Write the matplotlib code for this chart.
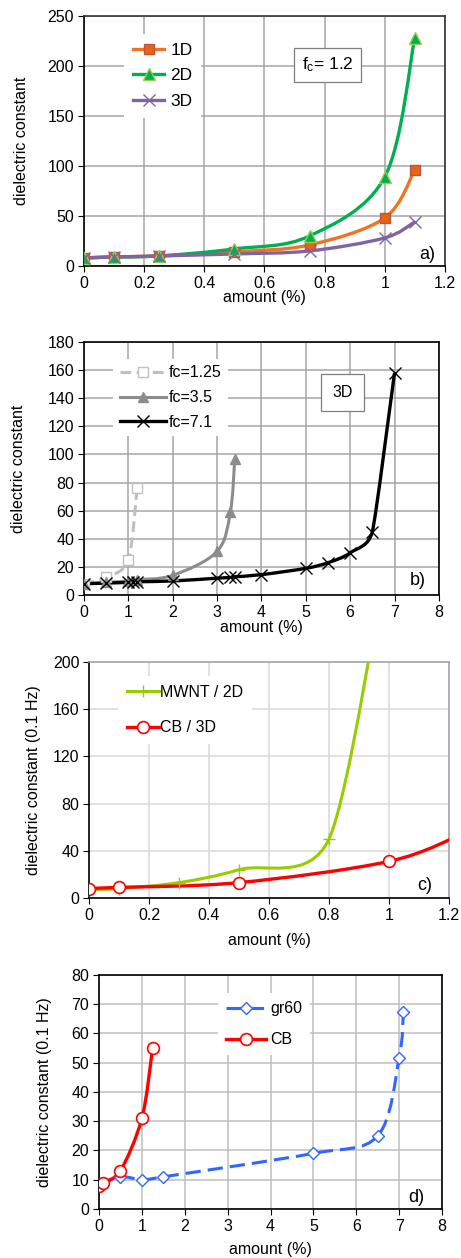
import numpy as np
import matplotlib
matplotlib.use('Agg')
import matplotlib.pyplot as plt
from matplotlib.path import Path
from matplotlib.patches import PathPatch
from matplotlib.lines import Line2D

plt.rcParams['font.family'] = ['Liberation Sans', 'DejaVu Sans']
plt.rcParams['font.size'] = 11.5

# a) network dimension, fc = 1.2
amount_a = [0, 0.1, 0.25, 0.5, 0.75, 1.0, 1.1]
eps_1d = [8, 9, 10, 14, 21, 48, 96]
eps_2d = [8, 9, 10, 17, 30, 89, 228]
eps_3d = [8, 9, 10, 12, 15, 28, 44]

# b) 3D network, different critical fractions
amount_fc125 = [0, 0.5, 1.0, 1.2]
eps_fc125 = [8, 12.5, 25, 76]
amount_fc35 = [0, 0.5, 1.0, 1.2, 2, 3, 3.3, 3.4]
eps_fc35 = [8, 9, 10, 11, 14, 31, 59, 97]
amount_fc71 = [0, 0.5, 1.0, 1.1, 1.2, 2, 3, 3.3, 3.4, 4, 5, 5.5, 6, 6.5, 7.0]
eps_fc71 = [8, 8.5, 9, 9.5, 9.5, 10, 12, 12.5, 13, 14.5, 19, 23, 30, 45, 158]

# c) MWNT vs CB
amount_mwnt = [0, 0.1, 0.3, 0.5, 0.8, 1.0]
eps_mwnt = [7, 8, 13, 24, 50, 300]
amount_cb = [0, 0.1, 0.5, 1.0, 1.25]
eps_cb = [8, 9, 13, 31, 55]

# d) graphite gr60 vs CB
amount_gr60 = [0, 0.5, 1.0, 1.5, 5.0, 6.5, 7.0, 7.1]
eps_gr60 = [8, 11, 10, 11, 19, 25, 51.5, 67.5]


def smooth_path(ax, x, y):
    # spreadsheet-style smoothed line: cubic Bezier through every point,
    # tangent (next - prev) / 6, capped at half of the shorter neighbouring chord
    pts = ax.transData.transform(np.column_stack([x, y]).astype(float))
    n = len(pts)
    arms = []
    for i in range(n):
        prev = pts[max(i - 1, 0)]
        nxt = pts[min(i + 1, n - 1)]
        v = (nxt - prev) / 6
        chords = []
        if i > 0:
            chords.append(np.hypot(*(pts[i] - prev)))
        if i < n - 1:
            chords.append(np.hypot(*(nxt - pts[i])))
        cap = 0.5 * min(chords)
        length = np.hypot(*v)
        if length > cap and length > 0:
            v = v * cap / length
        arms.append(v)
    verts = [pts[0]]
    codes = [Path.MOVETO]
    for i in range(n - 1):
        verts += [pts[i] + arms[i], pts[i + 1] - arms[i + 1], pts[i + 1]]
        codes += [Path.CURVE4] * 3
    verts = ax.transData.inverted().transform(np.array(verts))
    return Path(verts, codes)


def series(ax, x, y, color, lw, marker, ms, mfc, mec, mew=1.0, ls='-', label=None):
    ax.add_patch(PathPatch(smooth_path(ax, x, y), facecolor='none', edgecolor=color,
                           lw=lw, linestyle=ls, zorder=3))
    ax.plot(x, y, linestyle='none', marker=marker, ms=ms, mfc=mfc, mec=mec,
            mew=mew, zorder=4)
    return Line2D([], [], color=color, lw=lw, ls=ls, marker=marker, ms=ms,
                  mfc=mfc, mec=mec, mew=mew, label=label)


def style_axes(ax, xlim, ylim, xstep, ystep, grid_color, edge_color='black'):
    ax.set_xlim(*xlim)
    ax.set_ylim(*ylim)
    ax.set_xticks(np.arange(xlim[0], xlim[1] + xstep / 2, xstep))
    ax.set_yticks(np.arange(ylim[0], ylim[1] + ystep / 2, ystep))
    ax.xaxis.set_major_formatter(plt.FuncFormatter(lambda v, p: '%g' % round(v, 3)))
    ax.grid(True, color=grid_color, lw=1.1)
    ax.set_axisbelow(True)
    ax.tick_params(direction='out', length=4, width=0.8, pad=3, labelsize=11.5)
    for side in ['left', 'bottom']:
        ax.spines[side].set_color('black')
        ax.spines[side].set_linewidth(1.2)
    for side in ['top', 'right']:
        ax.spines[side].set_color(edge_color)
        ax.spines[side].set_linewidth(1.2)


legend_kw = dict(loc='upper left', frameon=True, fancybox=False, edgecolor='none',
                 framealpha=1)

fig = plt.figure(figsize=(4.61, 12.58), dpi=100)

# ---- a)
ax = fig.add_axes([0.182, 0.7886, 0.783, 0.1987])
style_axes(ax, (0, 1.2), (0, 250), 0.2, 50, '#A6A6A6', '#333333')
h1 = series(ax, amount_a, eps_1d, '#EE7421', 2.4, 's', 7.5, '#E8650E', '#C0504D', label='1D')
h2 = series(ax, amount_a, eps_2d, '#00B050', 2.4, '^', 8.5, '#00B050', '#92D050', label='2D')
h3 = series(ax, amount_a, eps_3d, '#8064A2', 2.4, 'x', 8, '#8064A2', '#8064A2', label='3D')
ax.legend(handles=[h1, h2, h3], bbox_to_anchor=(0.088, 0.963), fontsize=12.5,
          handlelength=1.8, handletextpad=0.35, labelspacing=0.6, borderpad=0.5,
          **legend_kw)
ax.text(0.81, 201, r'$\mathregular{f_c}$= 1.2', fontsize=12.5, ha='center', va='center',
        bbox=dict(boxstyle='square,pad=0.45', fc='white', ec='#7F7F7F', lw=0.9))
ax.text(0.95, 0.044, 'a)', transform=ax.transAxes, fontsize=13, ha='center', va='center')
ax.set_xlabel('amount (%)', fontsize=11.5)
ax.set_ylabel('dielectric constant', fontsize=11.5)
ax.xaxis.set_label_coords(0.5, -0.096)
ax.yaxis.set_label_coords(-0.152, 0.5)

# ---- b)
ax = fig.add_axes([0.182, 0.527, 0.77, 0.2011])
style_axes(ax, (0, 8), (0, 180), 1, 20, '#A6A6A6')
h1 = series(ax, amount_fc125, eps_fc125, '#BFBFBF', 2.2, 's', 7, 'white', '#BFBFBF',
            ls=(0, (3.5, 1.8)), label='fc=1.25')
h2 = series(ax, amount_fc35, eps_fc35, '#8C8C8C', 2.2, '^', 7, '#8C8C8C', '#8C8C8C',
            label='fc=3.5')
h3 = series(ax, amount_fc71, eps_fc71, 'black', 2.4, 'x', 8, 'black', 'black',
            label='fc=7.1')
ax.legend(handles=[h1, h2, h3], bbox_to_anchor=(0.06, 0.965), fontsize=11.5,
          handlelength=2.9, handletextpad=0.2, labelspacing=0.62, borderpad=0.4,
          **legend_kw)
ax.text(5.83, 144, '3D', fontsize=11.5, ha='center', va='center',
        bbox=dict(boxstyle='square,pad=0.7', fc='white', ec='#7F7F7F', lw=0.9))
ax.text(0.941, 0.059, 'b)', transform=ax.transAxes, fontsize=13, ha='center', va='center')
ax.set_xlabel('amount (%)', fontsize=11.5)
ax.set_ylabel('dielectric constant', fontsize=11.5)
ax.xaxis.set_label_coords(0.5, -0.098)
ax.yaxis.set_label_coords(-0.163, 0.5)

# ---- c)
ax = fig.add_axes([0.193, 0.2862, 0.781, 0.1876])
style_axes(ax, (0, 1.2), (0, 200), 0.2, 40, '#D9D9D9', '#A6A6A6')
h1 = series(ax, amount_mwnt, eps_mwnt, '#99CC00', 2.2, '+', 8, '#99CC00', '#99CC00',
            label='MWNT / 2D')
h2 = series(ax, amount_cb, eps_cb, '#FF0000', 2.4, 'o', 8.5, 'white', '#FF0000',
            mew=1.2, label='CB / 3D')
ax.legend(handles=[h1, h2], bbox_to_anchor=(0.058, 0.975), fontsize=11.5,
          handlelength=2.0, handletextpad=0.1, labelspacing=1.3, borderpad=0.55,
          **legend_kw)
ax.text(0.933, 0.051, 'c)', transform=ax.transAxes, fontsize=13, ha='center', va='center')
ax.set_xlabel('amount (%)', fontsize=11.5)
ax.set_ylabel('dielectric constant (0.1 Hz)', fontsize=11.5)
ax.xaxis.set_label_coords(0.5, -0.148)
ax.yaxis.set_label_coords(-0.132, 0.5)

# ---- d)
ax = fig.add_axes([0.2148, 0.039, 0.744, 0.186])
style_axes(ax, (0, 8), (0, 80), 1, 10, '#BFBFBF')
h1 = series(ax, amount_gr60, eps_gr60, '#3366FF', 2.2, 'D', 6.5, 'white', '#3366FF',
            ls=(0, (5, 2.3)), label='gr60')
h2 = series(ax, amount_cb, eps_cb, '#FF0000', 2.4, 'o', 8.5, 'white', '#FF0000',
            mew=1.2, label='CB')
ax.legend(handles=[h1, h2], bbox_to_anchor=(0.325, 0.955), fontsize=11.5,
          handlelength=2.5, handletextpad=0.25, labelspacing=1.0, borderpad=0.5,
          **legend_kw)
ax.text(0.924, 0.051, 'd)', transform=ax.transAxes, fontsize=13, ha='center', va='center')
ax.set_xlabel('amount (%)', fontsize=11.5)
ax.set_ylabel('dielectric constant (0.1 Hz)', fontsize=11.5)
ax.xaxis.set_label_coords(0.5, -0.141)
ax.yaxis.set_label_coords(-0.138, 0.5)

fig.savefig('out.png', dpi=100)
